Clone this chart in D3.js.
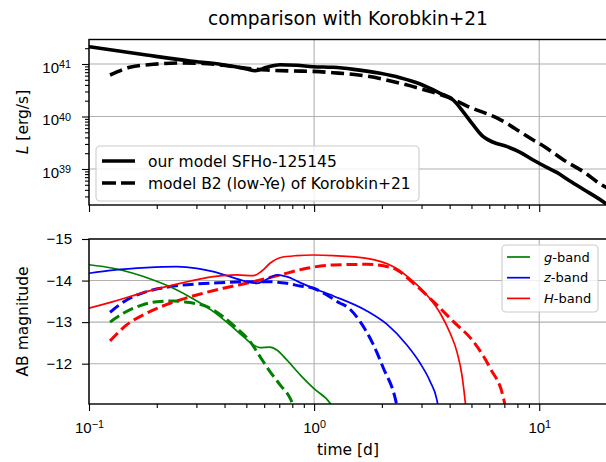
<!DOCTYPE html>
<html>
<head>
<meta charset="utf-8">
<script src="https://cdn.jsdelivr.net/npm/d3@7"></script>
<style>
body { margin: 0; background: #fff; }
svg { display: block; font-family: "DejaVu Sans", sans-serif; }
</style>
</head>
<body>
<svg id="chart" width="606" height="462"></svg>
<script>

// bolometric light curves: [time in d, L in erg/s]
var lumOurs = [
	[0.1, 2.14e41], [0.18, 1.48e41], [0.281, 1.14e41], [0.382, 9.86e40], [0.502, 8.04e40],
	[0.547, 7.45e40], [0.616, 8.65e40], [0.706, 9.7e40], [0.838, 9.44e40], [0.99, 8.89e40],
	[1.215, 8.65e40], [1.5, 7.9e40], [1.966, 6.65e40], [2.411, 5.48e40], [2.959, 4.16e40],
	[3.63, 2.77e40], [4.147, 2.06e40], [4.595, 1.23e40], [5.09, 6.89e39], [5.64, 4.12e39],
	[6.25, 3.23e39], [7.21, 2.66e39], [8.23, 2.08e39], [9.4, 1.48e39], [10.85, 1.06e39],
	[12.02, 8.51e38], [13.32, 6.37e38], [15.69, 4.11e38], [19.66, 2.22e38], [20, 2.1e38]
];
var lumKorobkin = [
	[0.124, 6.17e40], [0.152, 8.65e40], [0.193, 9.86e40], [0.254, 1.045e41], [0.321, 1.03e41],
	[0.394, 9.44e40], [0.502, 8.28e40], [0.616, 7.69e40], [0.808, 7.36e40], [0.99, 7.24e40],
	[1.215, 6.82e40], [1.71, 5.9e40], [2.41, 4.29e40], [3.38, 2.88e40], [3.89, 2.38e40],
	[4.78, 1.58e40], [6.67, 8.85e39], [9.4, 3.56e39], [10.1, 2.99e39], [13.2, 1.38e39],
	[15.7, 8.9e38], [19.0, 4.95e38], [20, 4.4e38]
];

// broad-band AB magnitudes: [time in d, mag]
var gOurs = [
	[0.1, -14.38], [0.128, -14.296], [0.157, -14.175], [0.193, -14.014], [0.237, -13.815],
	[0.291, -13.557], [0.357, -13.253], [0.423, -12.933], [0.485, -12.65], [0.537, -12.45],
	[0.575, -12.387], [0.637, -12.397], [0.683, -12.33], [0.756, -12.09], [0.867, -11.73],
	[0.993, -11.41], [1.178, -11.05], [1.21, -10.95]
];
var gKorobkin = [
	[0.124, -13.0], [0.142, -13.214], [0.169, -13.397], [0.2, -13.493], [0.237, -13.51],
	[0.281, -13.47], [0.334, -13.373], [0.395, -13.13], [0.453, -12.853], [0.52, -12.53],
	[0.575, -12.17], [0.637, -11.81], [0.706, -11.49], [0.782, -11.17], [0.815, -10.95]
];
var zOurs = [
	[0.1, -14.175], [0.128, -14.25], [0.18, -14.31], [0.245, -14.334], [0.301, -14.295],
	[0.357, -14.215], [0.423, -14.094], [0.502, -13.974], [0.556, -13.934], [0.616, -14.03],
	[0.683, -14.135], [0.756, -14.094], [0.867, -13.95], [0.993, -13.815], [1.218, -13.63],
	[1.715, -13.27], [2.104, -12.95], [2.582, -12.45], [2.959, -12.01], [3.278, -11.57],
	[3.511, -11.13], [3.56, -10.95]
];
var zKorobkin = [
	[0.124, -13.238], [0.147, -13.534], [0.18, -13.733], [0.229, -13.853], [0.301, -13.918],
	[0.382, -13.95], [0.502, -13.974], [0.616, -13.974], [0.756, -13.934], [0.867, -13.87],
	[0.993, -13.815], [1.139, -13.654], [1.305, -13.454], [1.398, -13.373], [1.601, -13.012],
	[1.835, -12.45], [2.032, -11.89], [2.291, -11.17], [2.34, -10.95]
];
var hOurs = [
	[0.1, -13.334], [0.128, -13.493], [0.18, -13.733], [0.254, -13.934], [0.357, -14.094],
	[0.453, -14.135], [0.537, -14.118], [0.586, -14.23], [0.637, -14.416], [0.706, -14.55],
	[0.838, -14.6], [0.993, -14.615], [1.218, -14.6], [1.715, -14.535], [2.252, -14.334],
	[2.763, -13.974], [3.169, -13.654], [3.631, -13.214], [4.022, -12.733], [4.307, -12.29],
	[4.534, -11.73], [4.69, -11.09], [4.72, -10.95]
];
var hKorobkin = [
	[0.124, -12.548], [0.147, -12.933], [0.18, -13.214], [0.229, -13.454], [0.301, -13.654],
	[0.395, -13.815], [0.537, -13.974], [0.706, -14.135], [0.928, -14.295], [1.218, -14.375],
	[1.715, -14.39], [2.252, -14.295], [2.763, -13.934], [3.39, -13.493], [4.16, -13.012],
	[5.105, -12.53], [6.057, -11.89], [6.939, -11.17], [7.08, -10.95]
];

var timeTicks = [0.1, 1, 10];
var lumTicks = [1e39, 1e40, 1e41];
var magTicks = [-15, -14, -13, -12];
var lumNames = ['our model SFHo-125145', 'model B2 (low-Ye) of Korobkin+21'];
var bandNames = ['g', 'z', 'H'];
var bandColors = ['green', 'blue', 'red'];


var svg = d3.select('#chart'),
	left = 89,
	right = 607,
	grid = '#b0b0b0';

var x = d3.scaleLog().domain([0.1, 20]).range([left, right]),
	yL = d3.scaleLog().domain([2.06e38, 2.93e41]).range([205, 39.5]),
	yM = d3.scaleLinear().domain([-15, -11.03]).range([239, 404]);

// 2..9 times each decade, inside the domain
function minorTicks( domain ) {
	var out = [];
	for ( var e = Math.floor( Math.log10( domain[0] ) ); e <= Math.ceil( Math.log10( domain[1] ) ); e++ ) {
		for ( var m = 2; m < 10; m++ ) {
			var v = m * Math.pow( 10, e );
			if ( v >= domain[0] && v <= domain[1] ) out.push( v );
		}
	}
	return out;
}

function powerLabel( text, dy ) {
	text.each( function( d ) {
		var e = Math.round( Math.log10( d ) ),
			t = d3.select( this ).text( '10' );
		if ( dy ) t.attr( 'dy', dy );
		t.append( 'tspan' )
			.attr( 'dy', '-0.42em' )
			.attr( 'font-size', '0.72em' )
			.text( e < 0 ? '\u2212' + ( -e ) : e );
	} );
}

function styleAxis( g ) {
	g.select( '.domain' ).remove();
	g.selectAll( '.tick line' ).attr( 'stroke', '#000' ).attr( 'stroke-width', 1.1 );
	g.selectAll( '.tick text' ).attr( 'fill', '#000' ).attr( 'font-size', 15 );
}

function panel( y, yTicks, id, showX ) {
	var ext = d3.extent( y.range() ), y0 = ext[0], y1 = ext[1];

	svg.append( 'clipPath' ).attr( 'id', id )
		.append( 'rect' ).attr( 'x', left ).attr( 'y', y0 ).attr( 'width', right - left ).attr( 'height', y1 - y0 );

	var gg = svg.append( 'g' ).attr( 'stroke', grid ).attr( 'stroke-width', 1.1 );
	gg.selectAll( 'line.v' ).data( timeTicks ).enter().append( 'line' )
		.attr( 'x1', x ).attr( 'x2', x ).attr( 'y1', y0 ).attr( 'y2', y1 );
	gg.selectAll( 'line.h' ).data( yTicks ).enter().append( 'line' )
		.attr( 'x1', left ).attr( 'x2', right ).attr( 'y1', y ).attr( 'y2', y );

	var plot = svg.append( 'g' ).attr( 'clip-path', 'url(#' + id + ')' );

	var xa = svg.append( 'g' ).attr( 'transform', 'translate(0,' + y1 + ')' )
		.call( d3.axisBottom( x ).tickValues( timeTicks ).tickSize( 7 ).tickPadding( 11 ) )
		.call( styleAxis );
	if ( showX ) xa.selectAll( '.tick text' ).call( powerLabel );
	else xa.selectAll( '.tick text' ).remove();
	svg.append( 'g' ).attr( 'transform', 'translate(0,' + y1 + ')' )
		.call( d3.axisBottom( x ).tickValues( minorTicks( x.domain() ) ).tickSize( 4 ).tickFormat( '' ) )
		.call( styleAxis );

	return plot;
}

function addFrame( y ) {
	var ext = d3.extent( y.range() );
	svg.append( 'rect' ).attr( 'x', left ).attr( 'y', ext[0] ).attr( 'width', right - left ).attr( 'height', ext[1] - ext[0] )
		.attr( 'fill', 'none' ).attr( 'stroke', '#000' ).attr( 'stroke-width', 1.4 );
}

function curve( y ) {
	return d3.line().x( function( d ) { return x( d[0] ); } ).y( function( d ) { return y( d[1] ); } )
		.curve( d3.curveMonotoneX );
}

// ---- top: luminosity
var topPlot = panel( yL, lumTicks, 'clipTop', false );

svg.append( 'g' ).attr( 'transform', 'translate(' + left + ',0)' )
	.call( d3.axisLeft( yL ).tickValues( lumTicks ).tickSize( 7 ).tickPadding( 11 ) )
	.call( styleAxis )
	.selectAll( '.tick text' ).call( powerLabel, '0.55em' );
svg.append( 'g' ).attr( 'transform', 'translate(' + left + ',0)' )
	.call( d3.axisLeft( yL ).tickValues( minorTicks( yL.domain() ) ).tickSize( 4 ).tickFormat( '' ) )
	.call( styleAxis );

topPlot.append( 'path' ).datum( lumOurs ).attr( 'd', curve( yL ) )
	.attr( 'fill', 'none' ).attr( 'stroke', '#000' ).attr( 'stroke-width', 3.6 );
topPlot.append( 'path' ).datum( lumKorobkin ).attr( 'd', curve( yL ) )
	.attr( 'fill', 'none' ).attr( 'stroke', '#000' ).attr( 'stroke-width', 3.6 ).attr( 'stroke-dasharray', '13,5.6' );
addFrame( yL );

// ---- bottom: AB magnitudes
var botPlot = panel( yM, magTicks, 'clipBot', true );

svg.append( 'g' ).attr( 'transform', 'translate(' + left + ',0)' )
	.call( d3.axisLeft( yM ).tickValues( magTicks ).tickSize( 7 ).tickPadding( 10 )
		.tickFormat( function( d ) { return ( '' + d ).replace( '-', '\u2212' ); } ) )
	.call( styleAxis );

var oursBands = [gOurs, zOurs, hOurs],
	korobkinBands = [gKorobkin, zKorobkin, hKorobkin];

korobkinBands.forEach( function( band, i ) {
	botPlot.append( 'path' ).datum( band ).attr( 'd', curve( yM ) )
		.attr( 'fill', 'none' ).attr( 'stroke', bandColors[i] ).attr( 'stroke-width', 3 )
		.attr( 'stroke-dasharray', '11,4.8' );
} );
oursBands.forEach( function( band, i ) {
	botPlot.append( 'path' ).datum( band ).attr( 'd', curve( yM ) )
		.attr( 'fill', 'none' ).attr( 'stroke', bandColors[i] ).attr( 'stroke-width', 1.7 );
} );
addFrame( yM );

// ---- text
svg.append( 'text' ).attr( 'x', 348 ).attr( 'y', 25 ).attr( 'text-anchor', 'middle' )
	.attr( 'font-size', 18.6 ).text( 'comparison with Korobkin+21' );

var yl = svg.append( 'text' ).attr( 'transform', 'translate(28,122) rotate(-90)' )
	.attr( 'text-anchor', 'middle' ).attr( 'font-size', 15.5 );
yl.append( 'tspan' ).attr( 'font-style', 'italic' ).text( 'L' );
yl.append( 'tspan' ).text( ' [erg/s]' );

svg.append( 'text' ).attr( 'transform', 'translate(28,321.5) rotate(-90)' )
	.attr( 'text-anchor', 'middle' ).attr( 'font-size', 15.5 ).text( 'AB magnitude' );

svg.append( 'text' ).attr( 'x', 348 ).attr( 'y', 455 ).attr( 'text-anchor', 'middle' )
	.attr( 'font-size', 15.5 ).text( 'time [d]' );

// ---- legends
svg.append( 'rect' ).attr( 'x', 96 ).attr( 'y', 146 ).attr( 'width', 323 ).attr( 'height', 55 ).attr( 'rx', 4 )
	.attr( 'fill', '#fff' ).attr( 'fill-opacity', 0.8 ).attr( 'stroke', '#cccccc' ).attr( 'stroke-width', 1.1 );
lumNames.forEach( function( name, i ) {
	var yy = 161 + i * 22;
	svg.append( 'line' ).attr( 'x1', 102 ).attr( 'x2', 135 ).attr( 'y1', yy ).attr( 'y2', yy )
		.attr( 'stroke', '#000' ).attr( 'stroke-width', 3.6 ).attr( 'stroke-dasharray', i ? '14,5' : null );
	svg.append( 'text' ).attr( 'x', 148 ).attr( 'y', yy + 5.6 ).attr( 'font-size', 15.5 ).text( name );
} );

svg.append( 'rect' ).attr( 'x', 502 ).attr( 'y', 245 ).attr( 'width', 96 ).attr( 'height', 67 ).attr( 'rx', 4 )
	.attr( 'fill', '#fff' ).attr( 'fill-opacity', 0.8 ).attr( 'stroke', '#cccccc' ).attr( 'stroke-width', 1.1 );
bandNames.forEach( function( name, i ) {
	var yy = 257 + i * 20.7;
	svg.append( 'line' ).attr( 'x1', 507 ).attr( 'x2', 530 ).attr( 'y1', yy ).attr( 'y2', yy )
		.attr( 'stroke', bandColors[i] ).attr( 'stroke-width', 1.7 );
	var t = svg.append( 'text' ).attr( 'x', 544 ).attr( 'y', yy + 4.7 ).attr( 'font-size', 13 );
	t.append( 'tspan' ).attr( 'font-style', 'italic' ).text( name );
	t.append( 'tspan' ).text( '-band' );
} );

</script>
</body>
</html>
